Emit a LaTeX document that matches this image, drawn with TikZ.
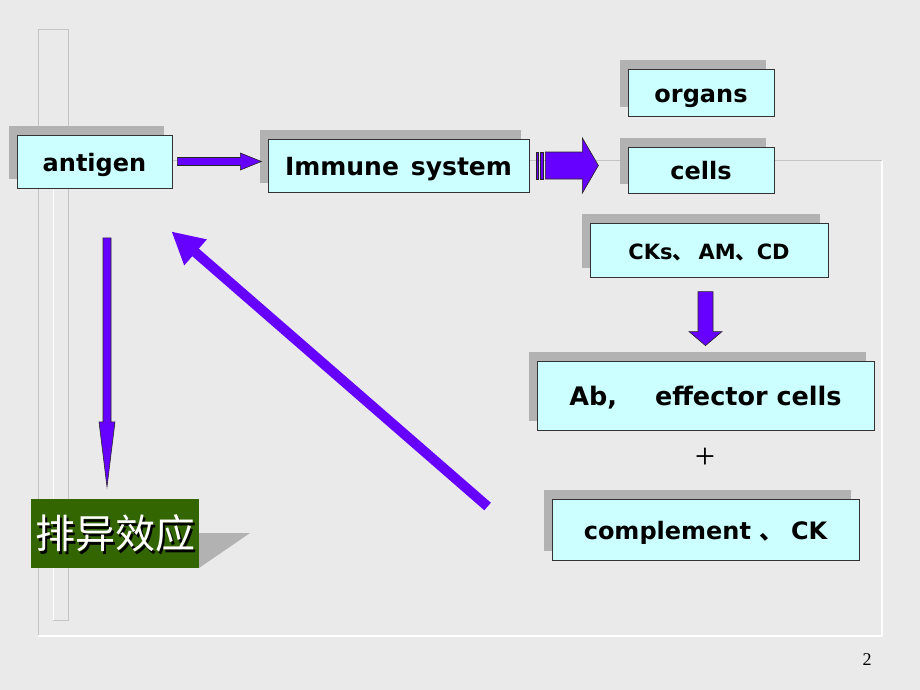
\documentclass[tikz,border=0pt]{standalone}
\usepackage{fontspec}
\setmainfont{DejaVu Sans}
\newfontfamily\cjk{Noto Sans CJK SC}
\newfontfamily\serifnum{Liberation Serif}
\usetikzlibrary{calc,arrows.meta,shadows}
\definecolor{bg}{HTML}{EAEAEA}
\definecolor{boxfill}{HTML}{CCFFFF}
\definecolor{shadowgrey}{HTML}{B2B2B2}
\definecolor{arrowpurple}{HTML}{6600FF}
\definecolor{leafgreen}{HTML}{336600}
\definecolor{frameline}{HTML}{C4C4C4}
\tikzset{
  lbox/.style={draw=black!80, line width=0.8pt, fill=boxfill, inner sep=0pt,
    font=\bfseries\fontsize{24}{28}\selectfont, text height=21.6pt, text depth=2.4pt,
    drop shadow={shadow xshift=-8pt, shadow yshift=9pt, fill=shadowgrey, opacity=1}},
  blockarrow/.style={fill=arrowpurple, draw=black!85, line width=0.6pt, line join=miter},
  rejbox/.style={fill=leafgreen, inner sep=0pt, minimum width=168pt, minimum height=69pt},
  rejtext/.style={font=\cjk\fontsize{40}{44}\selectfont, inner sep=0pt}
}
\begin{document}
\begin{tikzpicture}[x=1pt,y=-1pt]
\fill[bg] (0,0) rectangle (920,690);
\useasboundingbox (0,0) rectangle (920,690);
% frame lines
\draw[frameline, line width=1pt] (38,30) -- (38,636);
\draw[frameline, line width=1pt] (38,30) -- (68,30) -- (68,620) -- (53,620);
\draw[white, line width=1pt] (53,188) -- (53,620);
\draw[white, line width=1.2pt] (38,636) -- (882,636) -- (882,160);
\draw[frameline, line width=1pt] (68,160) -- (882,160);
% boxes
\node[lbox, minimum width=155pt, minimum height=53pt] (antigen) at (94.5,161.5) {antigen};
\node[lbox, minimum width=261pt, minimum height=53pt, font=\bfseries\fontsize{25}{29}\selectfont] (immune) at (398.5,165.5) {Immune\hspace{12pt}system};
\node[lbox, minimum width=146pt, minimum height=47pt] (organs) at (701,92.5) {organs};
\node[lbox, minimum width=146pt, minimum height=46pt] (cells) at (701,170) {cells};
\node[lbox, minimum width=238pt, minimum height=54pt, font=\bfseries\fontsize{21}{25}\selectfont] (cks) at (709,250) {CKs{\cjk 、}\hspace{5pt}AM{\cjk 、}CD};
\node[lbox, minimum width=337pt, minimum height=69pt, font=\bfseries\fontsize{25.5}{30}\selectfont] (ab) at (705.5,395.5) {Ab,\hspace{38pt}effector cells};
\node[lbox, minimum width=307pt, minimum height=61pt] (comp) at (705.5,529.5) {complement\hspace{8pt}{\cjk 、}\hspace{8pt}CK};
% rejection box
\fill[shadowgrey] (199,533) -- (250,533) -- (199,568) -- cycle;
\node[rejbox] (reject) at (115,533.5) {};
\node[rejtext, text=black] (rejshadow) at ($(reject.center)+(2.5,2.5)$) {排异效应};
\node[rejtext, text=white] (rejlabel) at (reject.center) {排异效应};
% plus and page number
\node[font=\serifnum\fontsize{36}{40}\selectfont, inner sep=0pt] (plus) at (705,458) {+};
\node[font=\serifnum\fontsize{18}{20}\selectfont, inner sep=0pt] (pagenum) at (867,660) {2};
% arrows
\draw[blockarrow] ($(antigen.east)+(5,-4)$) -- ++(63,0) -- ++(0,-4.5) -- ++(21,8.5) -- ++(-21,8.5) -- ++(0,-4.5) -- ++(-63,0) -- cycle;
\draw[blockarrow] ($(immune.east)+(7,-13.5)$) rectangle ++(2,27);
\draw[blockarrow] ($(immune.east)+(11,-13.5)$) rectangle ++(3,27);
\draw[blockarrow] ($(immune.east)+(16,-13.5)$) -- ++(37,0) -- ++(0,-14) -- ++(16,27.5) -- ++(-16,27.5) -- ++(0,-14) -- ++(-37,0) -- cycle;
\draw[blockarrow] ($(ab.north)+(-7.5,-69)$) -- ++(15,0) -- ++(0,40) -- ++(9,0) -- ++(-16.5,14) -- ++(-16.5,-14) -- ++(9,0) -- cycle;
\draw[blockarrow] ($(reject.north)+(-12,-261)$) -- ++(8,0) -- ++(0,184) -- ++(4,0) -- ++(-8,65) -- ++(-8,-65) -- ++(4,0) -- cycle;
\coordinate (fbstart) at ($(comp.west)+(-64,-23)$);
\coordinate (fbend) at ($(antigen.south east)+(-1,43)$);
\draw[line width=10pt, arrowpurple, -{Triangle[length=32pt,width=32pt]}] (fbstart) -- (fbend);
\end{tikzpicture}
\end{document}
